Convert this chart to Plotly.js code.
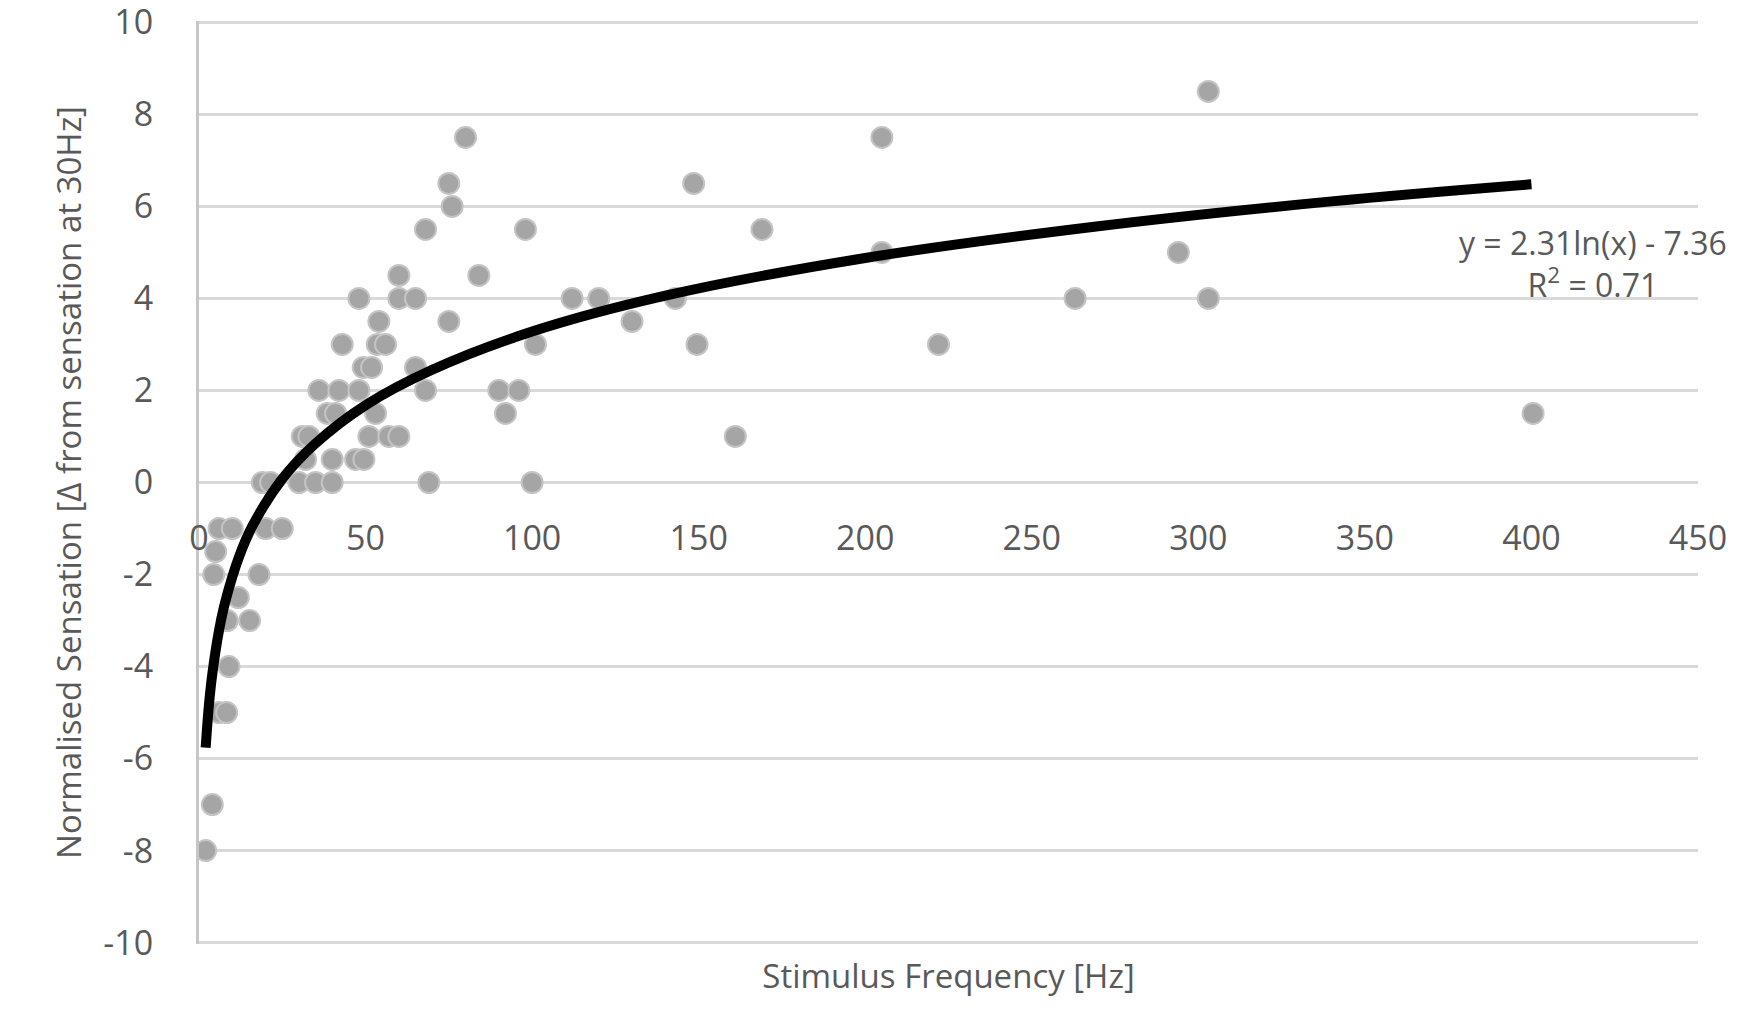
<!DOCTYPE html>
<html>
<head>
<meta charset="utf-8">
<script src="https://cdn.plot.ly/plotly-3.0.1.min.js"></script>
<style>
  body { margin: 0; background: #fff; }
  #chart { width: 1762px; height: 1017px; }
</style>
</head>
<body>
<div id="chart"></div>
<script>
// measured points: stimulus frequency (Hz) and normalised sensation
const freqHz = [
  303, 80, 205, 75, 148.5, 76, 68, 98, 169, 205, 294, 60, 84,
  48, 60, 65, 112, 120, 143, 263, 303,
  54, 75, 130,
  43, 53.5, 56, 101, 149.5, 222,
  49.3, 51.8, 65,
  36, 42, 48, 68, 90, 96,
  38.5, 41, 53, 92, 400.5,
  31, 33, 51, 57, 60, 161,
  32, 40, 47, 49.5,
  19, 21.5, 30, 35, 40, 69, 100,
  6, 10, 20, 25,
  5, 4.4, 18, 11.8, 8.5, 15.2, 9, 6, 8.3, 4, 2
];
const sensation = [
  8.5, 7.5, 7.5, 6.5, 6.5, 6, 5.5, 5.5, 5.5, 5, 5, 4.5, 4.5,
  4, 4, 4, 4, 4, 4, 4, 4,
  3.5, 3.5, 3.5,
  3, 3, 3, 3, 3, 3,
  2.5, 2.5, 2.5,
  2, 2, 2, 2, 2, 2,
  1.5, 1.5, 1.5, 1.5, 1.5,
  1, 1, 1, 1, 1, 1,
  0.5, 0.5, 0.5, 0.5,
  0, 0, 0, 0, 0, 0, 0,
  -1, -1, -1, -1,
  -1.5, -2, -2, -2.5, -3, -3, -4, -5, -5, -7, -8
];

// logarithmic trendline
const trendX = [2, 3, 4, 6, 8, 12, 16, 25, 35, 50, 70, 100, 140, 200, 270, 340, 400];
const trendY = [-5.76, -4.82, -4.16, -3.22, -2.56, -1.62, -0.95, 0.08, 0.85, 1.68, 2.45, 3.28, 4.06, 4.88, 5.57, 6.11, 6.48];

const xTicks = [0, 50, 100, 150, 200, 250, 300, 350, 400, 450];
const yTicks = [-10, -8, -6, -4, -2, 0, 2, 4, 6, 8, 10];
const yTickText = ['-10', '-8', '-6', '-4', '-2', '0', '2', '4', '6', '8', '10'];

const textColor = '#595959';
const fontFamily = '"Open Sans", "Noto Sans", sans-serif';

let traces = [
  {
    type: 'scatter',
    mode: 'markers',
    x: freqHz,
    y: sensation,
    marker: {
      size: 21,
      color: '#a5a5a5',
      line: { color: '#c4c4c4', width: 2 }
    },
    hoverinfo: 'x+y'
  },
  {
    type: 'scatter',
    mode: 'lines',
    x: trendX,
    y: trendY,
    line: { color: '#000000', width: 10, shape: 'spline' },
    hoverinfo: 'skip'
  },
  // tick labels sit on the y = 0 line, so they live on a second x axis
  {
    type: 'scatter',
    mode: 'markers',
    x: [],
    y: [],
    xaxis: 'x2',
    hoverinfo: 'skip'
  }
];

let layout = {
  width: 1762,
  height: 1017,
  margin: { l: 199, r: 64, t: 21, b: 73 },
  paper_bgcolor: '#ffffff',
  plot_bgcolor: '#ffffff',
  showlegend: false,
  font: { family: fontFamily, size: 34, color: textColor },
  xaxis: {
    range: [0, 450],
    showgrid: false,
    zeroline: false,
    showline: false,
    showticklabels: false,
    ticks: '',
    title: {
      text: 'Stimulus Frequency [Hz]',
      font: { size: 33, color: textColor },
      standoff: 20
    }
  },
  xaxis2: {
    overlaying: 'x',
    matches: 'x',
    anchor: 'free',
    position: 0.5,
    range: [0, 450],
    tickvals: xTicks,
    showgrid: false,
    zeroline: false,
    showline: false,
    ticks: '',
    ticklabelstandoff: 32,
    ticklabeloverflow: 'allow',
    tickfont: { size: 34, color: textColor }
  },
  yaxis: {
    range: [-10.03, 10.03],
    tickvals: yTicks,
    ticktext: yTickText,
    showgrid: true,
    gridcolor: '#d9d9d9',
    gridwidth: 3,
    zeroline: false,
    showline: true,
    linecolor: '#c6c6c6',
    linewidth: 3,
    ticks: '',
    ticklabelstandoff: 36,
    ticklabeloverflow: 'allow',
    tickfont: { size: 34, color: textColor },
    title: {
      text: 'Normalised Sensation [Δ from sensation at 30Hz]',
      font: { size: 33, color: textColor },
      standoff: 12
    }
  },
  annotations: [
    {
      xref: 'x',
      yref: 'y',
      x: 418.5,
      y: 4.76,
      xanchor: 'center',
      yanchor: 'middle',
      align: 'center',
      showarrow: false,
      text: 'y = 2.31ln(x) - 7.36<br>R<sup>2</sup> = 0.71',
      font: { size: 32, color: textColor }
    }
  ]
};

Plotly.newPlot('chart', traces, layout, { displayModeBar: false, staticPlot: true });
</script>
</body>
</html>
